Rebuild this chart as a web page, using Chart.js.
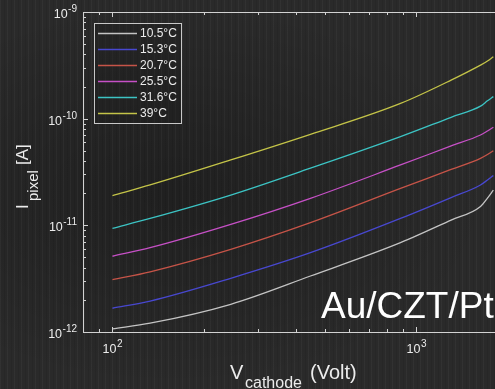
<!DOCTYPE html>
<html>
<head>
<meta charset="utf-8">
<script src="https://cdn.jsdelivr.net/npm/chart.js@4/dist/chart.umd.min.js"></script>
<style>
  html, body { margin: 0; padding: 0; overflow: hidden; background: #262626; }
  #wrap {
    position: relative; width: 495px; height: 389px; overflow: hidden;
    background-color: #2a2a2a;
    background-image:
      repeating-linear-gradient(90deg, rgba(255,255,255,0.035) 0 1px, transparent 1px 4px, rgba(0,0,0,0.08) 4px 5px, transparent 5px 7px),
      radial-gradient(ellipse at 35% 50%, rgba(0,0,0,0.25), transparent 70%);
  }
  canvas { position: absolute; left: 0; top: 0; }
</style>
</head>
<body>
<div id="wrap"><canvas id="grafica" width="520" height="389"></canvas></div>
<script>
// cathode voltage (V)
const voltios = [100, 133, 245, 448, 886, 1300, 1624, 1712, 1790];
// pixel current (A), one array per temperature
const temperaturas = ["10.5°C", "15.3°C", "20.7°C", "25.5°C", "31.6°C", "39°C"];
const i105 = [1.07e-12, 1.21e-12, 1.82e-12, 3.35e-12, 6.88e-12, 1.12e-11, 1.50e-11, 1.80e-11, 2.14e-11];
const i153 = [1.67e-12, 1.95e-12, 3.19e-12, 5.54e-12, 1.16e-11, 1.82e-11, 2.39e-11, 2.66e-11, 2.93e-11];
const i207 = [3.09e-12, 3.67e-12, 5.96e-12, 1.06e-11, 2.22e-11, 3.34e-11, 4.25e-11, 4.61e-11, 5.01e-11];
const i255 = [5.13e-12, 6.17e-12, 1.02e-11, 1.79e-11, 3.68e-11, 5.55e-11, 7.03e-11, 7.66e-11, 8.30e-11];
const i316 = [9.38e-12, 1.16e-11, 1.92e-11, 3.43e-11, 6.78e-11, 1.03e-10, 1.31e-10, 1.47e-10, 1.61e-10];
const i390 = [1.90e-11, 2.39e-11, 4.10e-11, 7.13e-11, 1.39e-10, 2.30e-10, 3.18e-10, 3.47e-10, 3.81e-10];
const corrientes = [i105, i153, i207, i255, i316, i390];
const colores = ['#c4c4c4', '#4848d0', '#c65448', '#c650c6', '#3cc4c4', '#c4c448'];

// tick positions
const xTicks = [90, 100, 200, 300, 400, 500, 600, 700, 800, 900, 1000, 2000];
const yTicks = [];
for (let e = -12; e < -9; e++) {
  for (let m = 1; m < 10; m++) yTicks.push(m * Math.pow(10, e));
}
yTicks.push(1e-9);

const esDecada = (v) => Math.abs(Math.log10(v) - Math.round(Math.log10(v))) < 1e-6;
const exponente = (v) => String(Math.round(Math.log10(v)));

const ejeColor = '#d2d2d2';
const textoColor = '#ececec';
const fuente = '"Liberation Sans", Arial, sans-serif';

// 10 with a raised exponent, anchored at its left edge
function potencia(ctx, v, x0, base) {
  ctx.font = '12.5px ' + fuente;
  ctx.fillText('10', x0, base);
  const w = ctx.measureText('10').width;
  ctx.font = '10px ' + fuente;
  ctx.fillText(exponente(v), x0 + w + 0.5, base - 6);
}
function anchoPotencia(ctx, v) {
  ctx.font = '12.5px ' + fuente;
  const w = ctx.measureText('10').width;
  ctx.font = '10px ' + fuente;
  return w + 0.5 + ctx.measureText(exponente(v)).width;
}

const decoracion = {
  id: 'decoracion',
  afterDraw(chart) {
    const { ctx, chartArea: a, scales: { x, y } } = chart;
    ctx.save();
    ctx.strokeStyle = ejeColor;
    ctx.lineWidth = 1;
    // axes box (right side is off screen)
    ctx.beginPath();
    ctx.moveTo(a.right, a.top + 0.5);
    ctx.lineTo(a.left + 0.5, a.top + 0.5);
    ctx.lineTo(a.left + 0.5, a.bottom + 0.5);
    ctx.lineTo(a.right, a.bottom + 0.5);
    ctx.stroke();
    // inward ticks
    ctx.beginPath();
    x.ticks.forEach(t => {
      const px = Math.round(x.getPixelForValue(t.value)) + 0.5;
      const l = esDecada(t.value) ? 5 : 3;
      ctx.moveTo(px, a.bottom); ctx.lineTo(px, a.bottom - l);
      ctx.moveTo(px, a.top); ctx.lineTo(px, a.top + l);
    });
    y.ticks.forEach(t => {
      const py = Math.round(y.getPixelForValue(t.value)) + 0.5;
      const l = esDecada(t.value) ? 5 : 3;
      ctx.moveTo(a.left, py); ctx.lineTo(a.left + l, py);
    });
    ctx.stroke();

    // tick labels
    ctx.fillStyle = textoColor;
    ctx.textBaseline = 'alphabetic';
    ctx.textAlign = 'left';
    x.ticks.filter(t => esDecada(t.value)).forEach(t => {
      const px = x.getPixelForValue(t.value);
      const w = anchoPotencia(ctx, t.value);
      potencia(ctx, t.value, px - w / 2, a.bottom + 21);
    });
    y.ticks.filter(t => esDecada(t.value)).forEach(t => {
      const py = y.getPixelForValue(t.value);
      const w = anchoPotencia(ctx, t.value);
      potencia(ctx, t.value, a.left - 6 - w, py + 6);
    });

    // legend
    ctx.fillStyle = 'rgba(30,30,30,0.35)';
    ctx.fillRect(94.5, 23.5, 87, 100);
    ctx.strokeStyle = '#c8c8c8';
    ctx.strokeRect(94.5, 23.5, 87, 100);
    ctx.font = '12px ' + fuente;
    ctx.textBaseline = 'middle';
    chart.data.datasets.forEach((ds, i) => {
      const ly = 33.5 + i * 16;
      ctx.strokeStyle = ds.borderColor;
      ctx.lineWidth = 1.5;
      ctx.beginPath(); ctx.moveTo(98, ly); ctx.lineTo(137, ly); ctx.stroke();
      ctx.fillStyle = textoColor;
      ctx.fillText(ds.label, 140, ly + 0.5);
    });

    // axis titles with subscripts
    ctx.fillStyle = textoColor;
    ctx.textBaseline = 'alphabetic';
    ctx.font = '20px ' + fuente;
    ctx.fillText('V', 230, 379);
    ctx.font = '16px ' + fuente;
    ctx.fillText('cathode', 245, 388);
    ctx.font = '20px ' + fuente;
    ctx.fillText('(Volt)', 310, 379);

    ctx.save();
    ctx.translate(28, 209);
    ctx.rotate(-Math.PI / 2);
    ctx.font = '17px ' + fuente;
    ctx.fillText('I', 0, 0);
    ctx.font = '15px ' + fuente;
    ctx.fillText('pixel', 8, 10);
    ctx.font = '17px ' + fuente;
    ctx.fillText('[A]', 44, 0);
    ctx.restore();

    // sample name
    ctx.font = '37px ' + fuente;
    ctx.fillStyle = '#ffffff';
    ctx.fillText('Au/CZT/Pt', 321, 318);
    ctx.restore();
  }
};

new Chart(document.getElementById('grafica'), {
  type: 'line',
  data: {
    labels: voltios,
    datasets: corrientes.map((serie, i) => ({
      label: temperaturas[i],
      data: serie.map((c, j) => ({ x: voltios[j], y: c })),
      borderColor: colores[i],
      borderWidth: 1.3,
      pointRadius: 0,
      fill: false,
      cubicInterpolationMode: 'monotone'
    }))
  },
  options: {
    responsive: false,
    animation: false,
    layout: { padding: { left: 0, top: 12, right: 12, bottom: 0 } },
    plugins: { legend: { display: false }, tooltip: { enabled: false } },
    scales: {
      x: {
        type: 'logarithmic',
        min: 80,
        max: 2000,
        afterBuildTicks: (s) => { s.ticks = xTicks.map(v => ({ value: v })); },
        afterFit: (s) => { s.height = 57; },
        grid: { display: false },
        border: { display: false },
        ticks: { display: false, autoSkip: false }
      },
      y: {
        type: 'logarithmic',
        min: 1e-12,
        max: 1e-9,
        afterBuildTicks: (s) => { s.ticks = yTicks.map(v => ({ value: v })); },
        afterFit: (s) => { s.width = 83; },
        grid: { display: false },
        border: { display: false },
        ticks: { display: false, autoSkip: false }
      }
    }
  },
  plugins: [decoracion]
});
</script>
</body>
</html>
